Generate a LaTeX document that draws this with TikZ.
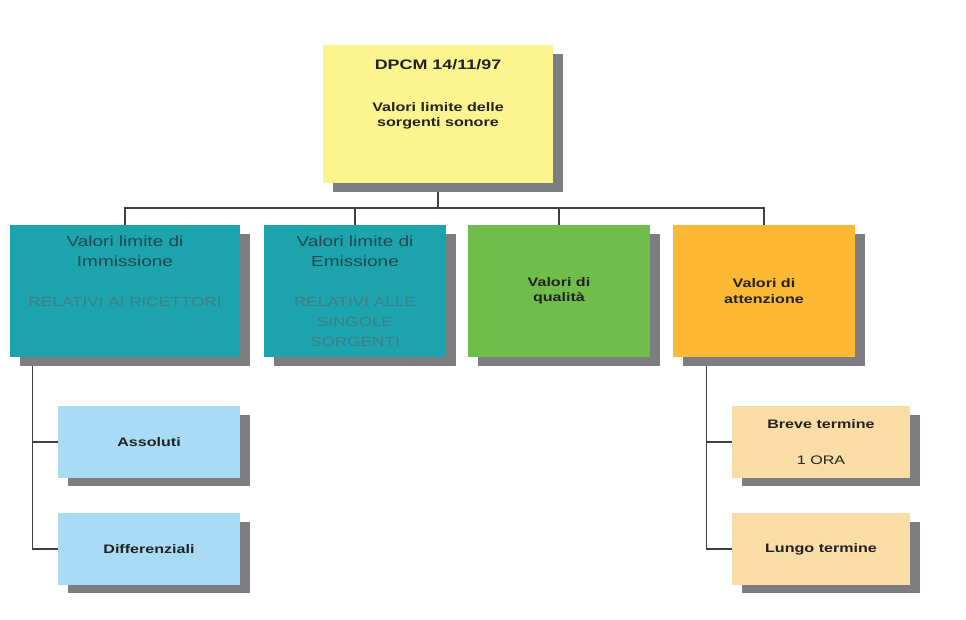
\documentclass[tikz,border=0pt]{standalone}
\usepackage{fontspec}
\newfontfamily\dpsans[FakeStretch=1.3]{Liberation Sans}
\usetikzlibrary{shadows,backgrounds}
\definecolor{dpyellow}{HTML}{FCF58F}
\definecolor{dpteal}{HTML}{1DA3AE}
\definecolor{dpgreen}{HTML}{71BD4C}
\definecolor{dporange}{HTML}{FDB935}
\definecolor{dpblue}{HTML}{A9DCF4}
\definecolor{dpbeige}{HTML}{F9DCA6}
\definecolor{dpshadow}{HTML}{7D7E82}
\definecolor{dpline}{HTML}{404040}
\definecolor{dptext}{HTML}{222222}
\definecolor{dptealtext}{HTML}{24484D}
\definecolor{dptealsoft}{HTML}{3E7F87}
\tikzstyle{dpbox}=[rectangle,inner sep=0pt,align=center,text=dptext,
  font=\dpsans\bfseries\fontsize{8.8}{10.8}\selectfont,
  drop shadow={shadow xshift=0.25cm,shadow yshift=-0.22cm,fill=dpshadow,opacity=1}]
\tikzstyle{dpteal}=[dpbox,fill=dpteal,text=dptealtext,minimum height=3.3cm,
  font=\dpsans\fontsize{10.4}{14.2}\selectfont]
\tikzstyle{dpsub}=[dpbox,minimum width=4.55cm,minimum height=1.78cm]
\tikzstyle{dpconn}=[draw=dpline,line width=0.75pt]
\newcommand{\dptop}[3]{\parbox[c][#2][t]{#1}{\centering\vspace{0.27cm}#3}}
\newcommand{\dpsoft}[1]{{\color{dptealsoft}\fontsize{9.4}{14.2}\selectfont#1}}

\begin{document}
\begin{tikzpicture}[x=0.025cm,y=-0.025cm]
    \useasboundingbox (0,0) rectangle (966,619);
    \node[dpbox,fill=dpyellow,minimum width=5.75cm,minimum height=3.45cm] (dpcm) at (438,114)
      {\parbox[c][3.45cm][t]{5.5cm}{\centering\vspace{0.36cm}{\fontsize{9.8}{10.8}\selectfont DPCM 14/11/97}\\[19pt]Valori limite delle\\sorgenti sonore}};
    \node[dpteal,minimum width=5.75cm] (imm) at (125,291)
      {\dptop{5.6cm}{3.3cm}{Valori limite di\\Immissione\\[14.2pt]\dpsoft{RELATIVI AI RICETTORI}}};
    \node[dpteal,minimum width=4.55cm] (emi) at (355,291)
      {\dptop{4.4cm}{3.3cm}{Valori limite di\\Emissione\\[14.2pt]\dpsoft{RELATIVI ALLE\\SINGOLE\\SORGENTI}}};
    \node[dpbox,fill=dpgreen,minimum width=4.55cm,minimum height=3.3cm] (qual) at (559,291)
      {Valori di\\qualità};
    \node[dpbox,fill=dporange,minimum width=4.55cm,minimum height=3.3cm] (att) at (764,291)
      {Valori di\\attenzione};
    \node[dpsub,fill=dpblue] (ass) at (149,442) {Assoluti};
    \node[dpsub,fill=dpblue] (diff) at (149,549) {Differenziali};
    \node[dpsub,fill=dpbeige,minimum width=4.45cm] (breve) at (821,442)
      {Breve termine\\[15pt]\mdseries 1 ORA};
    \node[dpsub,fill=dpbeige,minimum width=4.45cm] (lungo) at (821,549) {Lungo termine};
    \coordinate (bus) at (440,208);
    \begin{scope}[on background layer]
      \draw[dpconn] (dpcm.south) -- (dpcm.south |- bus);
      \draw[dpconn] (imm.north) |- (att.north |- bus) -- (att.north);
      \foreach \n in {emi,qual}
        \draw[dpconn] (\n.north) -- (\n.north |- bus);
      \draw[dpconn] ([xshift=0.575cm]imm.south west) |- (ass.west);
      \draw[dpconn] ([xshift=0.575cm]imm.south west) |- (diff.west);
      \draw[dpconn] ([xshift=0.85cm]att.south west) |- (breve.west);
      \draw[dpconn] ([xshift=0.85cm]att.south west) |- (lungo.west);
    \end{scope}
\end{tikzpicture}
\end{document}
